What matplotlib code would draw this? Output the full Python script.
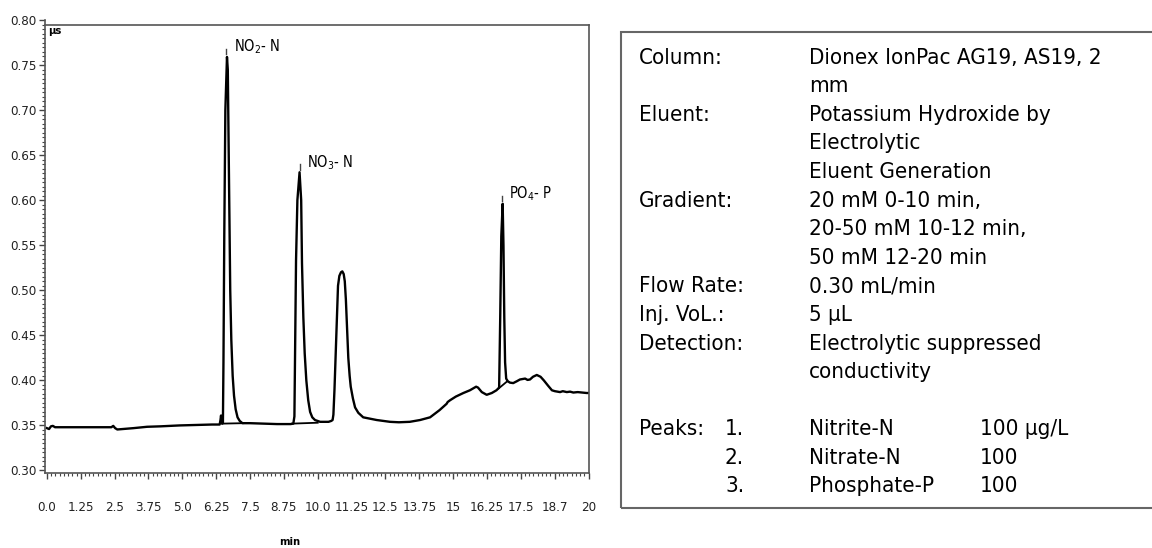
import numpy as np
import matplotlib
matplotlib.use('Agg')
import matplotlib.pyplot as plt
from matplotlib.ticker import FixedLocator, AutoMinorLocator
from matplotlib.patches import Rectangle

# %% -----------------------------------------------------------------------------------------------
# Data

# retention time (min) and conductivity (uS)
time_min = [0.0, 0.08, 0.15, 0.22, 0.3, 1.0, 2.0, 2.38, 2.45, 2.52, 2.6, 2.8, 3.2, 3.7, 4.2, 4.9,
            5.5, 6.1, 6.38, 6.41, 6.43, 6.45, 6.48,
            6.50, 6.52, 6.55, 6.59, 6.65, 6.68, 6.71, 6.74, 6.77, 6.81, 6.86, 6.91, 6.97, 7.04, 7.12,
            7.22,
            7.5, 8.0, 8.5, 9.0,
            9.10, 9.14, 9.17, 9.20, 9.25, 9.33, 9.39, 9.42, 9.47, 9.52, 9.58, 9.65, 9.72, 9.80, 9.90,
            10.09, 10.4, 10.5,
            10.55, 10.58, 10.62, 10.68, 10.75, 10.80, 10.86, 10.91, 10.96, 11.0, 11.04, 11.08, 11.13,
            11.18, 11.22, 11.30, 11.38, 11.5, 11.68, 12.18, 12.67, 13.0, 13.4,
            13.78, 14.15, 14.5, 14.76, 14.80, 14.89, 15.1, 15.38, 15.62, 15.85, 15.92, 16.06, 16.24,
            16.43, 16.60, 16.70,
            16.74, 16.78, 16.83, 16.86, 16.89, 16.92, 16.96, 17.02, 17.1, 17.22, 17.35, 17.47, 17.66,
            17.75, 17.84, 17.95, 18.09, 18.23, 18.35, 18.51, 18.65, 18.76, 18.95, 19.05, 19.2, 19.32,
            19.44, 19.6, 19.93, 20.0]
signal_us = [0.347, 0.346, 0.349, 0.3495, 0.348, 0.348, 0.348, 0.348, 0.3495, 0.347, 0.3455, 0.346,
             0.347, 0.3485, 0.349, 0.350, 0.3505, 0.351, 0.351, 0.356, 0.361, 0.355, 0.352,
             0.353, 0.42, 0.56, 0.70, 0.759, 0.745, 0.66, 0.57, 0.50, 0.445, 0.405, 0.383, 0.368, 0.359,
             0.355, 0.3525,
             0.3525, 0.352, 0.3515, 0.3515,
             0.352, 0.36, 0.45, 0.533, 0.60, 0.631, 0.60, 0.53, 0.47, 0.43, 0.40, 0.378, 0.365, 0.359,
             0.356, 0.354, 0.354, 0.355,
             0.356, 0.362, 0.39, 0.444, 0.505, 0.516, 0.520, 0.521, 0.518, 0.510, 0.49, 0.46, 0.425,
             0.405, 0.393, 0.38, 0.370, 0.364, 0.359, 0.356, 0.354, 0.3535, 0.354,
             0.356, 0.359, 0.367, 0.374, 0.376, 0.378, 0.382, 0.386, 0.389, 0.393, 0.392, 0.387, 0.384,
             0.386, 0.389, 0.392,
             0.47, 0.56, 0.596, 0.55, 0.47, 0.42, 0.402, 0.399, 0.3975, 0.397, 0.399, 0.401, 0.402,
             0.4005, 0.401, 0.404, 0.406, 0.404, 0.400, 0.394, 0.389, 0.388, 0.387, 0.388, 0.387, 0.3875,
             0.3865, 0.387, 0.386, 0.386]

# integration baselines drawn under the peaks
base_t = [[6.46, 7.25], [9.05, 10.0], [16.68, 17.0]]
base_v = [[0.352, 0.3525], [0.352, 0.353], [0.391, 0.399]]

# labelled peaks
peak_names = [r'NO$_2$- N', r'NO$_3$- N', r'PO$_4$- P']
peak_times = [6.63, 9.33, 16.81]
peak_heights = [0.759, 0.631, 0.596]

# axis ticks
ytick_vals = [0.30, 0.35, 0.40, 0.45, 0.50, 0.55, 0.60, 0.65, 0.70, 0.75, 0.80]
xtick_vals = [0.0, 1.25, 2.5, 3.75, 5.0, 6.25, 7.5, 8.75, 10.0, 11.25, 12.5, 13.75, 15.0,
              16.25, 17.5, 18.75, 20.0]
xtick_labels = ['0.0', '1.25', '2.5', '3.75', '5.0', '6.25', '7.5', '8.75', '10.0', '11.25',
                '12.5', '13.75', '15', '16.25', '17.5', '18.7', '20']

# method conditions
info_labels = ['Column:', '', 'Eluent:', '', '', 'Gradient:', '', '', 'Flow Rate:', 'Inj. VoL.:',
               'Detection:', '']
info_values = ['Dionex IonPac AG19, AS19, 2', 'mm', 'Potassium Hydroxide by', 'Electrolytic',
               'Eluent Generation', '20 mM 0-10 min,', '20-50 mM 10-12 min,', '50 mM 12-20 min',
               '0.30 mL/min', '5 µL', 'Electrolytic suppressed', 'conductivity']
peak_nums = ['1.', '2.', '3.']
peak_analytes = ['Nitrite-N', 'Nitrate-N', 'Phosphate-P']
peak_conc = ['100 µg/L', '100', '100']

# %% -----------------------------------------------------------------------------------------------
# Figure

plt.rcParams['font.family'] = 'DejaVu Sans'
plt.rcParams['font.stretch'] = 'condensed'

W, H = 1152, 548
fig = plt.figure(figsize=(W / 100, H / 100), dpi=100)

# chromatogram axes (pixel positions from the reference)
ax = fig.add_axes([45 / W, 1 - 473 / H, (588.5 - 45) / W, (473 - 20) / H])
ax.plot(time_min, signal_us, color='black', lw=1.7, solid_joinstyle='round')
for n in range(len(base_t)):
    ax.plot(base_t[n], base_v[n], color='black', lw=1.3)

# peak markers + labels
for n in range(len(peak_names)):
    ax.plot([peak_times[n], peak_times[n]], [peak_heights[n] + 0.003, peak_heights[n] + 0.009],
            color='#444444', lw=1.0)
    ax.text(peak_times[n] + 0.27, peak_heights[n] + 0.011, peak_names[n], fontsize=10.5,
            ha='left', va='center')

ax.set_xlim(-0.07, 20)
ax.set_ylim(0.2972, 0.80)
ax.spines['top'].set_position(('data', 0.794))
ax.spines['right'].set_bounds(0.2972, 0.794)
for s in ax.spines.values():
    s.set_color('#555555')
    s.set_linewidth(1.2)

ax.yaxis.set_major_locator(FixedLocator(ytick_vals))
ax.set_yticklabels(['%.2f' % v for v in ytick_vals])
ax.yaxis.set_minor_locator(AutoMinorLocator(10))
ax.xaxis.set_major_locator(FixedLocator(xtick_vals))
ax.set_xticklabels(xtick_labels)
ax.xaxis.set_minor_locator(AutoMinorLocator(8))
ax.tick_params(which='major', direction='out', length=4.5, width=1, color='#444444',
               labelsize=9.5, labelcolor='#222222')
ax.tick_params(which='minor', direction='out', length=2.4, width=0.8, color='#444444')
ax.tick_params(axis='x', pad=16)
ax.tick_params(axis='y', pad=1.5)

ax.text(0.006, 0.987, 'µs', transform=ax.transAxes, fontsize=8, fontweight='bold',
        ha='left', va='top')
fig.text(290 / W, 1 - 542 / H, 'min', fontsize=8, fontweight='bold', ha='center', va='center')

# conditions box
fig.patches.append(Rectangle((621 / W, 1 - 508 / H), 0.6, (508 - 32) / H,
                             transform=fig.transFigure, fill=False, edgecolor='#666666', lw=1.5))
y0 = 63.5
dy = 28.6
fs = 16
for n in range(len(info_values)):
    y = 1 - (y0 + n * dy) / H
    fig.text(639 / W, y, info_labels[n], fontsize=fs, va='baseline', ha='left')
    fig.text(809 / W, y, info_values[n], fontsize=fs, va='baseline', ha='left')
for n in range(len(peak_nums)):
    y = 1 - (y0 + (13 + n) * dy) / H
    if n == 0:
        fig.text(639 / W, y, 'Peaks:', fontsize=fs, va='baseline', ha='left')
    fig.text(725 / W, y, peak_nums[n], fontsize=fs, va='baseline', ha='left')
    fig.text(809 / W, y, peak_analytes[n], fontsize=fs, va='baseline', ha='left')
    fig.text(980 / W, y, peak_conc[n], fontsize=fs, va='baseline', ha='left')

fig.savefig('out.png', dpi=100)
